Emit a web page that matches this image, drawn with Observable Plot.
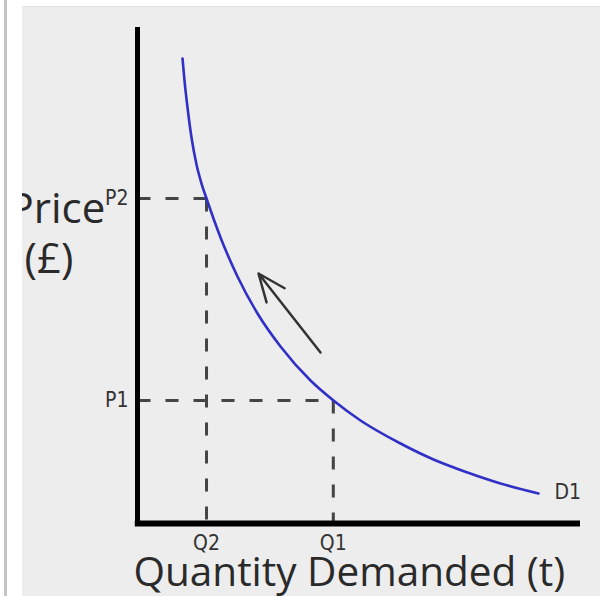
<!DOCTYPE html>
<html>
<head>
<meta charset="utf-8">
<script src="https://cdn.jsdelivr.net/npm/d3@7"></script>
<script src="https://cdn.jsdelivr.net/npm/@observablehq/plot@0.6"></script>
<style>
  html, body { margin: 0; padding: 0; background: #ffffff; }
  #wrap { position: relative; width: 600px; height: 596px; overflow: hidden; }
  #wrap svg { position: absolute; left: 0; top: 0; }
  #wrap svg [font-family*="DejaVu"] { font-stretch: semi-condensed; }
  .band { position: absolute; background: #ffffff; }
  #topband { left: 0; top: 0; width: 600px; height: 7px; border-bottom: 1px solid #e2e2e2; box-sizing: border-box; }
  #leftband { left: 0; top: 0; width: 22px; height: 596px; }
  #leftline { position: absolute; left: 4px; top: 0; width: 3px; height: 596px; background: #c4c4c4; }
</style>
</head>
<body>
<div id="wrap"></div>
<script>
// Demand curve D1 (quantity, price), axes 0..100
const curveQ = [10.16, 10.61, 11.29, 12.19, 13.32, 14.45, 15.58, 18.74, 22.57, 27.09, 32.28, 39.05, 44.24, 50.34, 59.37, 66.82, 74.49, 81.94, 90.52];
const curveP = [93.74, 89.29, 83.84, 77.78, 72.32, 68.48, 65.45, 57.58, 49.70, 42.22, 35.56, 28.69, 24.65, 20.61, 15.96, 12.73, 10.10, 7.88, 5.86];
const curveName = "D1";

// Price / quantity levels
const priceLabels = ["P2", "P1"];
const priceValues = [65.45, 24.65];
const quantityLabels = ["Q2", "Q1"];
const quantityValues = [15.58, 44.2];

// Movement arrow (from, to)
const arrowFrom = [41.31, 34.34];
const arrowTo = [27.31, 50.30];

const yTitle1 = "Price";
const yTitle2 = "(£)";
const xTitle = "Quantity Demanded (t)";

const curve = curveQ.map((q, i) => ({q, p: curveP[i]}));
const levels = priceValues.map((p, i) => ({p, q: quantityValues[i]}));
const hLinks = levels.map(d => ({x1: 0, y1: d.p, x2: d.q, y2: d.p}));
const vLinks = levels.map(d => ({x1: d.q, y1: d.p, x2: d.q, y2: 0}));
const arrows = [{x1: arrowFrom[0], y1: arrowFrom[1], x2: arrowTo[0], y2: arrowTo[1]}];

const tickFont = "'DejaVu Sans Condensed', 'DejaVu Sans', sans-serif";
const titleFont = "'Open Sans', 'Noto Sans', sans-serif";

const chart = Plot.plot({
  width: 600,
  height: 596,
  marginLeft: 137,
  marginRight: 20,
  marginTop: 27,
  marginBottom: 74,
  style: {background: "#ededed", fontFamily: titleFont, overflow: "visible"},
  x: {domain: [0, 100]},
  y: {domain: [0, 100]},
  marks: [
    Plot.link(hLinks, {x1: "x1", y1: "y1", x2: "x2", y2: "y2", stroke: "#444", strokeWidth: 3, strokeDasharray: "13,15"}),
    Plot.link(vLinks, {x1: "x1", y1: "y1", x2: "x2", y2: "y2", stroke: "#444", strokeWidth: 3, strokeDasharray: "13,15"}),
    Plot.line(curve, {x: "q", y: "p", stroke: "#3030c6", strokeWidth: 2.6, curve: "monotone-x"}),
    Plot.text(curve, Plot.selectLast({x: "q", y: "p", text: () => curveName, dx: 16, dy: -1, textAnchor: "start", lineAnchor: "middle", fontSize: 21, fontFamily: tickFont, fill: "#333"})),
    Plot.arrow(arrows, {x1: "x1", y1: "y1", x2: "x2", y2: "y2", stroke: "#333", strokeWidth: 2.5, headLength: 18, headAngle: 45}),
    Plot.ruleX([0], {stroke: "#000", strokeWidth: 5}),
    Plot.ruleY([0], {x1: -0.5, x2: 100, stroke: "#000", strokeWidth: 6, dy: 1}),
    Plot.axisY({ticks: priceValues, tickFormat: (d, i) => priceLabels[i], tickSize: 0, tickPadding: 9, fontSize: 21, fontFamily: tickFont, color: "#333", label: null}),
    Plot.axisX({ticks: quantityValues, tickFormat: (d, i) => quantityLabels[i], tickSize: 0, tickPadding: 13, fontSize: 21, fontFamily: tickFont, color: "#333", label: null}),
    Plot.text([yTitle1], {frameAnchor: "top-left", dx: -129, dy: 195, textAnchor: "start", lineAnchor: "bottom", fontSize: 42, fontFamily: titleFont, fill: "#2a2a2a"}),
    Plot.text([yTitle2], {frameAnchor: "top-left", dx: -113, dy: 245, textAnchor: "start", lineAnchor: "bottom", fontSize: 42, fontFamily: titleFont, fill: "#2a2a2a"}),
    Plot.text([xTitle], {frameAnchor: "bottom-left", dx: -4, dy: 63, textAnchor: "start", lineAnchor: "bottom", fontSize: 40.5, fontFamily: titleFont, fill: "#2a2a2a"})
  ]
});

const wrap = document.getElementById("wrap");
wrap.appendChild(chart);
for (const id of ["topband", "leftband"]) {
  const d = document.createElement("div");
  d.className = "band"; d.id = id; wrap.appendChild(d);
}
const line = document.createElement("div");
line.id = "leftline"; wrap.appendChild(line);
</script>
</body>
</html>
